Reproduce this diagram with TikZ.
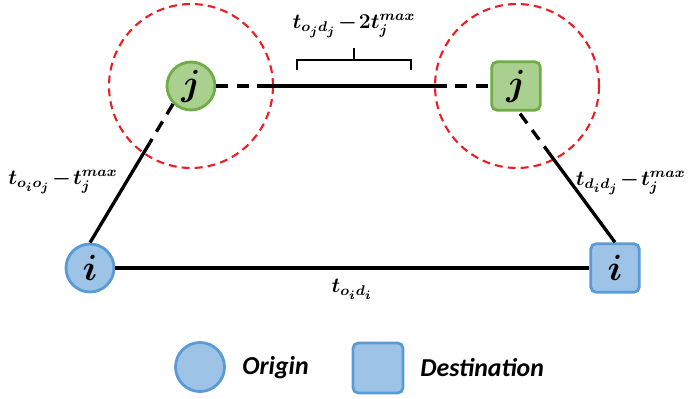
\documentclass[tikz,border=0pt]{standalone}
\usepackage{fontspec}
\newfontfamily\legfont{Carlito}
\usetikzlibrary{calc}
\DeclareMathSizes{12}{12}{8.2}{6.8}
\DeclareMathSizes{20}{20}{14}{10}
\definecolor{gfill}{RGB}{169,208,142}
\definecolor{gdraw}{RGB}{112,173,71}
\definecolor{bfill}{RGB}{157,195,230}
\definecolor{bdraw}{RGB}{91,155,213}
\definecolor{rdash}{RGB}{235,30,35}
\newcommand{\mn}{\mskip1.5mu{-}\mskip1.5mu}
\tikzset{
  conn/.style={line width=1.9pt, black},
  connd/.style={line width=1.9pt, black, dash pattern=on 6.8pt off 4.8pt},
  redring/.style={draw=rdash, line width=1.2pt, dash pattern=on 4.5pt off 2.9pt},
  orig/.style={circle, minimum size=0.96cm, inner sep=0pt, line width=1.6pt},
  dest/.style={rectangle, rounded corners=3pt, minimum size=0.97cm, inner sep=0pt, line width=1.6pt},
  greennode/.style={fill=gfill, draw=gdraw},
  bluenode/.style={fill=bfill, draw=bdraw},
  letter/.style={font=\fontsize{20}{22}\selectfont\boldmath},
  lbl/.style={font=\fontsize{12}{14}\selectfont\boldmath, inner sep=0pt},
  legtext/.style={font=\legfont\fontsize{14.7}{17}\selectfont\bfseries\itshape, inner sep=0pt}
}
\begin{document}
\begin{tikzpicture}[x=0.02cm, y=-0.02cm]
\useasboundingbox (0,0) rectangle (688,398);
% red dashed ranges
\draw[redring] (191,86) circle[radius=1.64cm];
\draw[redring] (517,86) circle[radius=1.64cm];
% nodes
\node[orig, greennode, letter] (oj) at (191,86) {$j$};
\node[dest, greennode, letter] (dj) at (516,86) {$j$};
\node[orig, bluenode, letter] (oi) at (90,268) {$i$};
\node[dest, bluenode, letter] (di) at (615,268) {$i$};
% connectors
\coordinate (h1) at (259,86);
\coordinate (h2) at (435,86);
\draw[connd] (oj.east) -- (h1);
\draw[conn] (h1) -- (h2);
\draw[connd] (h2) -- (dj.west);
\coordinate (lt) at (oj.south west);
\coordinate (ls) at ($(oi.north)!0.72!(lt)$);
\draw[connd] (lt) -- (ls);
\draw[conn] (ls) -- (oi.north);
\coordinate (rt) at ($(dj.south)+(4,2)$);
\coordinate (rs) at ($(rt)!0.30!(di.north)$);
\draw[connd] (rt) -- (rs);
\draw[conn] (rs) -- (di.north);
\draw[conn] (oi.east) -- (di.west);
% brace
\draw[line width=0.8pt] (297,70) -- (297,60) -- (411,60) -- (411,70);
\draw[line width=0.8pt] (354,60) -- (354,48);
% labels
\node[lbl] (ltop) at (354,26) {$t_{o_j d_j}\mn 2t_j^{max}$};
\node[lbl] (lleft) at (63,182) {$t_{o_i o_j}\mn t_j^{max}$};
\node[lbl, anchor=east] (lright) at (686,183) {$t_{d_i d_j}\mn t_j^{max}$};
\node[lbl] (lbot) at (352,289) {$t_{o_i d_i}$};
% legend
\node[orig, bluenode, minimum size=0.98cm] (lego) at (200,367) {};
\node[legtext, anchor=west] (lego t) at (242,368) {Origin};
\node[dest, bluenode, minimum size=1.0cm] (legd) at (378,368) {};
\node[legtext, anchor=west] (legd t) at (420,368) {Destination};
\end{tikzpicture}
\end{document}
